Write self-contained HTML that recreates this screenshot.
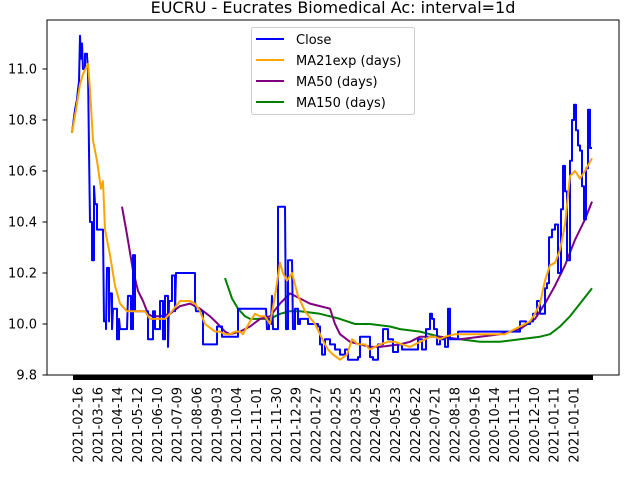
<!DOCTYPE html>
<html><head><meta charset="utf-8"><style>
html,body{margin:0;padding:0;background:#fff;}
svg{display:block;font-family:"DejaVu Sans","Liberation Sans",sans-serif;}
</style></head><body>
<svg id="chart" width="640" height="480" viewBox="0 0 640 480">
<rect x="0" y="0" width="640" height="480" fill="#fff"/>
<text x="333" y="13" font-size="16" text-anchor="middle" fill="#000">EUCRU - Eucrates Biomedical Ac: interval=1d</text>
<g id="plot"></g>
<rect x="47" y="20" width="572" height="355" fill="none" stroke="#000" stroke-width="1"/>
<g id="yaxis"></g>
<g id="xaxis"></g>
<g>
<rect x="251.5" y="27.5" width="163" height="87" rx="2" fill="#fff" fill-opacity="0.8" stroke="#ccc"/>
<line x1="256" y1="39" x2="284" y2="39" stroke="#0000ff" stroke-width="2"/>
<text x="296" y="44" font-size="13">Close</text>
<line x1="256" y1="60" x2="284" y2="60" stroke="#ffa500" stroke-width="2"/>
<text x="296" y="65" font-size="13">MA21exp (days)</text>
<line x1="256" y1="81" x2="284" y2="81" stroke="#800080" stroke-width="2"/>
<text x="296" y="86" font-size="13">MA50 (days)</text>
<line x1="256" y1="102" x2="284" y2="102" stroke="#008000" stroke-width="2"/>
<text x="296" y="107" font-size="13">MA150 (days)</text>
</g>
</svg>
<script>
const yTicks = [9.8, 10.0, 10.2, 10.4, 10.6, 10.8, 11.0];
const xLabels = ["2021-02-16","2021-03-16","2021-04-14","2021-05-12","2021-06-10","2021-07-09","2021-08-06","2021-09-03","2021-10-04","2021-11-01","2021-11-30","2021-12-29","2022-01-27","2022-02-25","2022-03-25","2022-04-25","2022-05-23","2022-06-22","2022-07-21","2022-08-18","2020-09-16","2020-10-14","2020-11-11","2020-12-10","2021-01-11","2021-01-01"];
const closeDays = [0,1,2,3,4,5,6,7,8,9,10,11,13,15,16,17,18,20,22,23,25,31,32,34,35,37,38,40,41,45,47,48,55,56,59,61,63,69,76,81,83,88,91,93,96,97,100,103,104,123,124,131,143,145,150,164,166,194,195,197,199,200,201,204,206,213,214,216,220,221,223,226,228,236,246,248,250,253,258,263,268,273,276,286,288,296,298,301,306,311,316,321,326,330,343,346,350,354,358,360,362,365,368,373,376,378,386,408,444,448,454,458,461,465,468,473,475,477,480,483,486,489,491,493,495,498,500,502,504,506,508,510,512,514,516,518,520];
const closeVals = [10.75,10.78,10.81,10.84,10.86,10.88,10.92,10.95,11.13,11.04,11.10,11.00,11.06,11.05,11.00,10.68,10.40,10.25,10.54,10.47,10.37,10.37,10.01,9.98,10.22,10.01,10.12,9.98,10.06,9.94,10.02,9.98,9.98,10.11,9.98,10.27,10.05,10.05,9.94,10.05,9.98,10.09,9.94,10.11,9.91,10.09,10.19,10.05,10.20,10.09,10.05,9.92,9.92,9.99,9.95,9.95,10.06,10.06,9.98,10.02,10.0,10.11,9.98,9.98,10.46,10.46,9.98,10.25,10.25,9.98,10.06,10.0,10.02,10.0,9.99,9.92,9.88,9.94,9.92,9.90,9.88,9.90,9.86,9.87,9.95,9.95,9.87,9.86,9.92,9.98,9.94,9.89,9.92,9.90,9.90,9.94,9.90,9.98,10.04,10.02,9.98,9.92,9.94,9.91,10.06,9.94,9.97,9.97,9.97,10.01,10.0,10.01,10.04,10.09,10.04,10.14,10.16,10.34,10.37,10.39,10.20,10.45,10.62,10.52,10.25,10.64,10.80,10.86,10.76,10.70,10.68,10.54,10.41,10.61,10.84,10.69,10.69];
const ma21Days = [0,4,8,11,16,18,21,25,29,31,33,38,43,48,55,63,68,73,78,88,93,100,108,113,118,123,128,133,143,148,153,158,163,168,171,178,183,188,193,198,203,208,211,215,220,226,233,243,248,253,256,261,268,275,280,286,293,298,308,316,323,330,338,348,353,358,363,368,373,383,408,433,448,453,458,463,468,473,478,483,488,493,498,503,508,513,520];
const ma21Vals = [10.75,10.84,10.94,10.98,11.02,10.92,10.72,10.64,10.53,10.56,10.37,10.27,10.15,10.08,10.05,10.05,10.05,10.05,10.02,10.02,10.02,10.05,10.09,10.09,10.09,10.08,10.05,10.00,9.97,9.97,9.96,9.96,9.97,9.97,9.96,10.01,10.04,10.03,10.03,10.00,10.11,10.24,10.20,10.17,10.20,10.11,10.05,10.0,9.96,9.92,9.90,9.88,9.86,9.88,9.94,9.92,9.92,9.90,9.92,9.93,9.93,9.92,9.91,9.93,9.94,9.95,9.95,9.94,9.95,9.96,9.96,9.96,9.99,10.00,10.01,10.04,10.08,10.17,10.23,10.24,10.29,10.39,10.58,10.60,10.57,10.60,10.65];
const ma50Days = [50,55,61,66,71,76,80,88,98,108,118,128,138,146,153,158,168,178,188,198,208,218,228,238,248,258,263,268,278,288,298,308,328,338,348,358,368,388,408,428,448,463,473,483,493,503,513,520];
const ma50Vals = [10.46,10.35,10.21,10.13,10.09,10.04,10.03,10.03,10.04,10.07,10.08,10.06,10.03,10.00,9.97,9.96,9.97,9.99,10.02,10.03,10.08,10.12,10.10,10.08,10.07,10.06,10.00,9.96,9.93,9.92,9.91,9.91,9.92,9.93,9.95,9.95,9.95,9.94,9.95,9.96,9.98,10.02,10.08,10.15,10.23,10.33,10.41,10.48];
const ma150Days = [153,160,166,173,178,188,198,208,218,228,248,268,283,298,318,328,348,358,368,388,408,428,448,468,478,488,498,508,520];
const ma150Vals = [10.18,10.10,10.06,10.03,10.02,10.02,10.02,10.04,10.05,10.05,10.04,10.02,10.00,10.00,9.99,9.98,9.97,9.96,9.95,9.94,9.93,9.93,9.94,9.95,9.96,9.99,10.03,10.08,10.14];

const NS = "http://www.w3.org/2000/svg";
const X0 = 72, X1 = 592, D0 = 0, D1 = 520;
const Y0 = 375, Y1 = 20, V0 = 9.8, V1 = 11.192;
function xs(d){ return X0 + (d - D0) / (D1 - D0) * (X1 - X0); }
function ys(v){ return Y0 - (v - V0) / (V1 - V0) * (Y0 - Y1); }
function mk(tag, attrs, parent){ const e = document.createElementNS(NS, tag); for (const k in attrs) e.setAttribute(k, attrs[k]); parent.appendChild(e); return e; }

const plot = document.getElementById('plot');
function series(days, vals, color, name, step){
  let d = '';
  for (let i = 0; i < days.length; i++){
    const x = xs(days[i]).toFixed(1), y = ys(vals[i]).toFixed(1);
    if (i === 0) d += 'M' + x + ',' + y;
    else if (step && days[i] - days[i-1] > 1) d += 'H' + x + 'V' + y;
    else d += 'L' + x + ',' + y;
  }
  const p = mk('path', {d: d, fill: 'none', stroke: color, 'stroke-width': 2, 'stroke-linejoin': 'round'}, plot);
  
  
}
series(ma150Days, ma150Vals, '#008000', 'ma150-line', false);
series(ma50Days, ma50Vals, '#800080', 'ma50-line', false);
series(closeDays, closeVals, '#0000ff', 'close-line', true);
series(ma21Days, ma21Vals, '#ffa500', 'ma21exp-line', false);

const ya = document.getElementById('yaxis');
yTicks.forEach(v => {
  const y = ys(v);
  const t = mk('line', {x1: 42.5, x2: 47, y1: y, y2: y, stroke: '#000', 'stroke-width': 1}, ya);
  
  
  const l = mk('text', {x: 37, y: y + 4.5, 'font-size': 13, 'text-anchor': 'end', fill: '#000'}, ya);
  l.textContent = v.toFixed(1);
  
  
});

const xa = document.getElementById('xaxis');
const bar = mk('rect', {x: 73, y: 375, width: 520, height: 5, fill: '#000'}, xa);


const LX0 = 78, LX1 = 574;
xLabels.forEach((s, i) => {
  const x = LX0 + i * (LX1 - LX0) / (xLabels.length - 1);
  const t = mk('text', {x: 0, y: 0, 'font-size': 13, 'text-anchor': 'end', fill: '#000', transform: 'translate(' + (x + 4.5).toFixed(1) + ',387) rotate(-90)'}, xa);
  t.textContent = s;
  
  
});
</script>
</body></html>
